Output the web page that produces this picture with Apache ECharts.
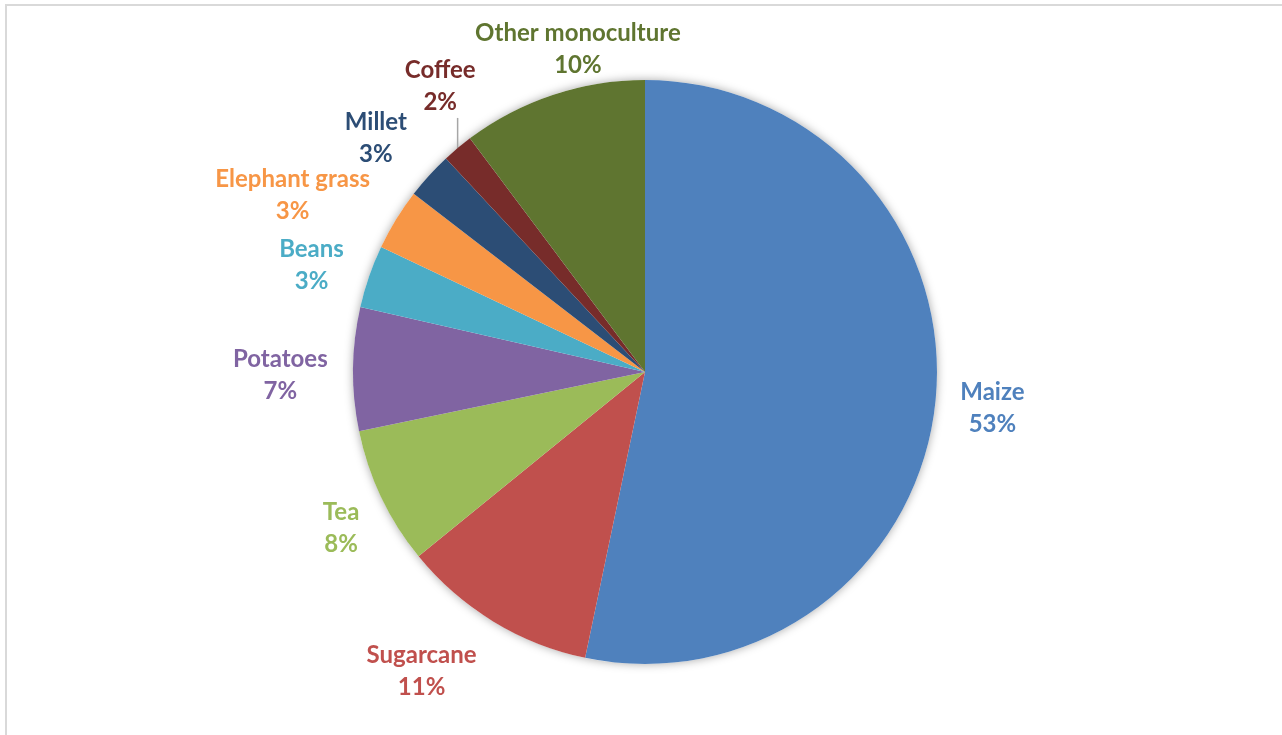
<!DOCTYPE html>
<html><head><meta charset="utf-8">
<script src="https://cdn.jsdelivr.net/npm/echarts@6/dist/echarts.min.js"></script>
<style>
html,body{margin:0;padding:0;background:#fff;}
#frame{position:absolute;left:5px;top:4px;width:1277px;height:731px;border-top:2px solid #d9d9d9;border-left:2px solid #d9d9d9;box-sizing:border-box;}
#chart{position:absolute;left:0;top:0;width:1282px;height:735px;}
</style></head><body>
<div id="frame"></div><div id="chart"></div>
<script>
const categories = ['Maize', 'Sugarcane', 'Tea', 'Potatoes', 'Beans', 'Elephant grass', 'Millet', 'Coffee', 'Other monoculture'];
const values = [53.1, 10.8, 7.6, 6.8, 3.45, 3.4, 2.6, 1.7, 10.2];
const colors = ['#4F81BD', '#C0504D', '#9BBB59', '#8064A2', '#4BACC6', '#F79646', '#2C4D75', '#772C2A', '#5F7530'];

const CX = 645, CY = 372, R = 292, GAP = 22;
const total = values.reduce((a, b) => a + b, 0);
const mids = [];
let acc = 0;
values.forEach(v => { mids.push((acc + v / 2) / total * 2 * Math.PI); acc += v; });
// nudges mimicking the spreadsheet's label collision/fit handling
const nudge = {
  'Sugarcane': [-31, -17], 'Tea': [7, 8], 'Potatoes': [-3, 7], 'Beans': [2, 9],
  'Elephant grass': [-14, 30], 'Millet': [-4, 8], 'Coffee': [27, -9], 'Other monoculture': [52, 35]
};

const chart = echarts.init(document.getElementById('chart'), null, { renderer: 'canvas' });
chart.setOption({
  animation: false,
  backgroundColor: 'transparent',
  series: [
    {
      type: 'pie', silent: true, z: 1,
      center: [CX, CY], radius: R,
      label: { show: false }, labelLine: { show: false },
      itemStyle: { color: '#ffffff', shadowBlur: 10, shadowColor: 'rgba(0,0,0,0.35)' },
      data: [{ value: total, name: '' }]
    },
    {
      type: 'pie', z: 2,
      center: [CX, CY], radius: R,
      startAngle: 90, clockwise: true,
      percentPrecision: 0,
      avoidLabelOverlap: false,
      label: {
        show: true, position: 'outside',
        formatter: '{b}\n{d}%',
        fontFamily: 'Lato', fontWeight: 'bold', fontSize: 24, lineHeight: 32,
        align: 'center'
      },
      labelLine: { show: false },
      labelLayout: function (p) {
        const i = p.dataIndex;
        const a = mids[i];
        const ux = Math.sin(a), uy = -Math.cos(a);
        const w = p.labelRect.width, h = p.labelRect.height;
        const d = R + GAP + Math.abs(ux) * w / 2 + Math.abs(uy) * h / 2;
        const n = nudge[categories[i]] || [0, 0];
        const x = CX + ux * d + n[0], y = CY + uy * d + n[1];
        const out = { x: x, y: y, align: 'center', verticalAlign: 'middle' };
        if (categories[i] === 'Coffee') {
          const ex = CX + R * ux, ey = CY + R * uy, by = y + h / 2;
          out.labelLinePoints = [[ex, ey], [ex, (ey + by) / 2], [ex, by]];
        }
        return out;
      },
      data: categories.map((c, i) => ({
        name: c, value: values[i],
        itemStyle: { color: colors[i] },
        label: { color: colors[i] },
        labelLine: c === 'Coffee' ? { show: true, lineStyle: { color: '#a6a6a6', width: 1.5 } } : { show: false }
      }))
    }
  ]
});
</script>
</body></html>
